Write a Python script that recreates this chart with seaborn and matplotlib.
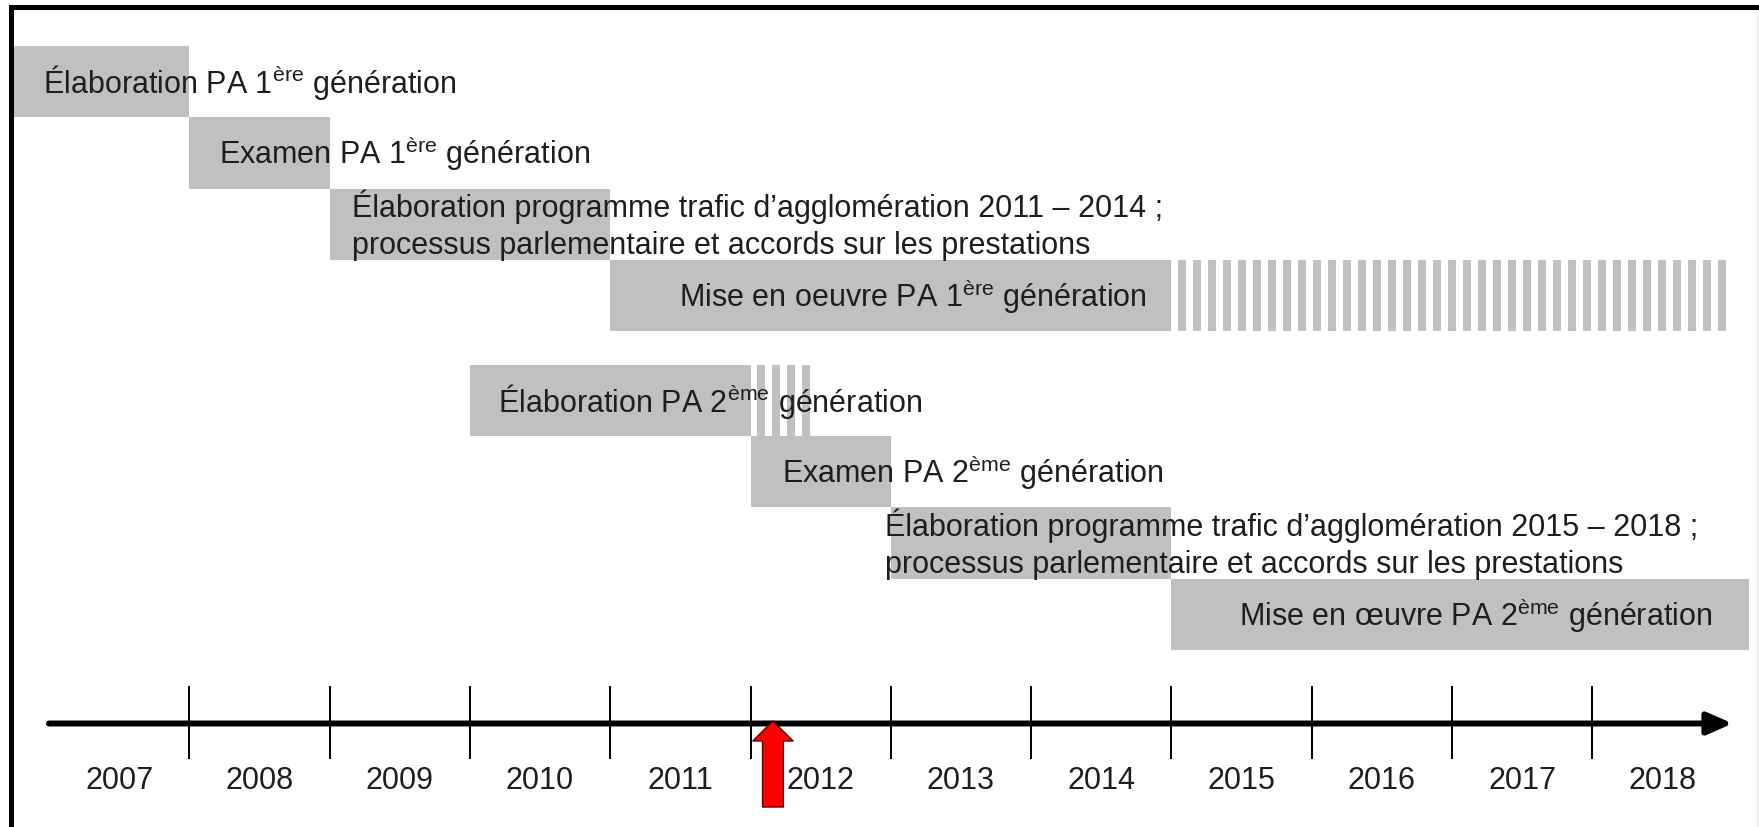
import numpy as np
import matplotlib.pyplot as plt
import seaborn as sns

# Phases of the agglomeration programme (PA) timeline
phases = [
    "Élaboration PA 1$^{\\mathregular{ère}}$ génération",
    "Examen PA 1$^{\\mathregular{ère}}$ génération",
    "Élaboration programme trafic d’agglomération 2011 – 2014 ;\nprocessus parlementaire et accords sur les prestations",
    "Mise en oeuvre PA 1$^{\\mathregular{ère}}$ génération",
    "Élaboration PA 2$^{\\mathregular{ème}}$ génération",
    "Examen PA 2$^{\\mathregular{ème}}$ génération",
    "Élaboration programme trafic d’agglomération 2015 – 2018 ;\nprocessus parlementaire et accords sur les prestations",
    "Mise en œuvre PA 2$^{\\mathregular{ème}}$ génération",
]
generation = [1, 1, 1, 1, 2, 2, 2, 2]
starts = [2006.75, 2008, 2009, 2011, 2010, 2012, 2013, 2015]
ends = [2008, 2009, 2011, 2015, 2012, 2013, 2015, 2019.12]
# open-ended continuation (striped part), None = no stripes
striped_until = [None, None, None, 2019.0, 2012.47, None, None, None]

years = list(range(2007, 2019))
current_year = 2012.16  # red arrow

# styling
bar_color = "#c0c0c0"
text_color = "#1e1e1e"
label_align = ["left", "left", "left", "right", "left", "left", "left", "right"]
label_pad_px = [29, 30, 22, -25, 28, 31, -6, -37]
group_gap = 0.47
fs = 22

sns.set_theme(style="white")
plt.rcParams["font.family"] = ["Liberation Sans", "DejaVu Sans"]
plt.rcParams["mathtext.fontset"] = "custom"
plt.rcParams["mathtext.rm"] = "Liberation Sans"

W, H = 1759, 828
fig = plt.figure(figsize=(W / 100, H / 100), dpi=100)
ax = fig.add_axes([10.5 / W, 0, (1757 - 10.5) / W, (H - 7.5) / H])

# pixel anchors: 2007 starts at x=49 px, 140.3 px per year; row 0 top at 47 px, 71.3 px per row
px_year, x0 = 140.3, 49
px_row, y0 = 71.3, 47
ax.set_xlim(2007 - (x0 - 10.5) / px_year, 2007 + (1757 - x0) / px_year)
ax.set_ylim((H - y0) / px_row, (7.5 - y0) / px_row)

lane = []
for g in sorted(set(generation)):
    idx = [i for i, v in enumerate(generation) if v == g]
    for k, i in enumerate(idx):
        lane.append(k + (g - 1) * (4 + group_gap))

for i, label in enumerate(phases):
    y = lane[i] + 0.5
    ax.barh(y, ends[i] - starts[i], left=starts[i], height=1.0,
            color=bar_color, edgecolor="none", zorder=1)
    if striped_until[i] is not None:
        period, width = 0.107, 0.058
        xs = np.arange(ends[i] + 0.045, striped_until[i] - width / 2, period)
        ax.barh([y] * len(xs), width, left=xs, height=1.0,
                color=bar_color, edgecolor="none", zorder=1)
    anchor = starts[i] if label_align[i] == "left" else ends[i]
    ax.annotate(label, xy=(anchor, y), xytext=(label_pad_px[i] * 0.72, 0),
                textcoords="offset points", ha=label_align[i], va="center",
                fontsize=fs, color=text_color, linespacing=1.32, zorder=3)

# time axis
axis_y = (724.5 - y0) / px_row
ax.annotate("", xy=(years[-1] + 1, axis_y), xytext=(years[0], axis_y),
            arrowprops=dict(arrowstyle="-|>,head_length=0.5,head_width=0.22",
                            lw=4.3, color="black", mutation_scale=30,
                            shrinkA=0, shrinkB=0), zorder=2)
tick_top = (687 - y0) / px_row
tick_bot = (760 - y0) / px_row
ax.vlines(years[1:], tick_top, tick_bot, color="black", lw=1.4, zorder=2)
label_y = (781 - y0) / px_row
for yr in years:
    ax.text(yr + 0.5, label_y, str(yr), ha="center", va="center",
            fontsize=fs, color=text_color)

# current position marker
tip_y = (722 - y0) / px_row
tail_y = (808 - y0) / px_row
ax.annotate("", xy=(current_year, tip_y), xytext=(current_year, tail_y),
            arrowprops=dict(arrowstyle="simple,head_length=0.72,head_width=1.45,tail_width=0.75",
                            fc="#ff0000", ec="#5a0000", lw=1.0, mutation_scale=20,
                            shrinkA=0, shrinkB=0), zorder=4)

# frame
ax.spines["bottom"].set_visible(False)
ax.spines["top"].set_linewidth(3.6)
ax.spines["left"].set_linewidth(3.6)
ax.spines["top"].set_color("black")
ax.spines["left"].set_color("black")
ax.spines["right"].set_color("#ececec")
ax.spines["right"].set_linewidth(1)
ax.set_xticks([])
ax.set_yticks([])

fig.savefig("out.png", dpi=100)
